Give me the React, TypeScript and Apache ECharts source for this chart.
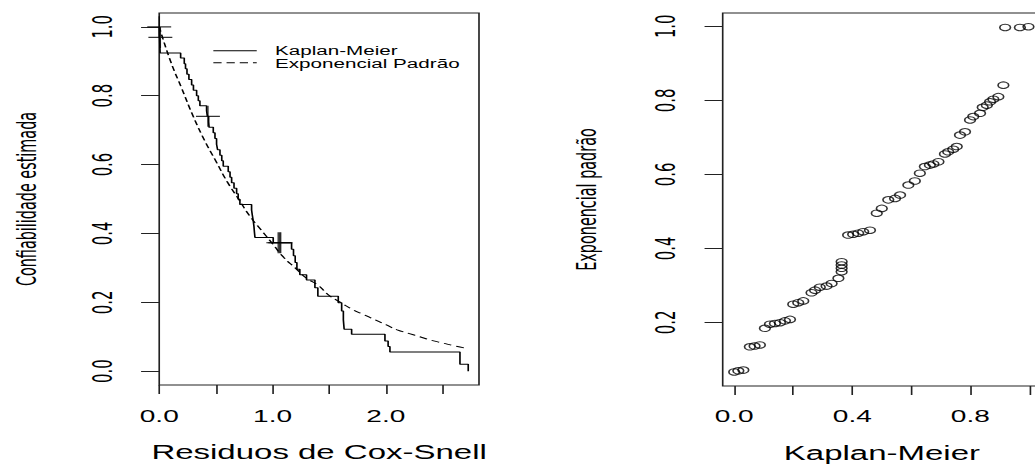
import React, { useEffect, useRef } from "react";
import * as echarts from "echarts";

// ---------- data ----------
// Kaplan-Meier step function of the Cox-Snell residuals
const kmTime = [0, 0.003, 0.008, 0.189, 0.221, 0.232, 0.245, 0.262, 0.286, 0.302, 0.33, 0.345, 0.359, 0.418, 0.425, 0.436, 0.44, 0.477, 0.492, 0.506, 0.515, 0.536, 0.552, 0.565, 0.609, 0.625, 0.639, 0.66, 0.683, 0.697, 0.712, 0.815, 0.822, 0.83, 0.836, 0.84, 0.845, 1.006, 1.168, 1.185, 1.2, 1.215, 1.241, 1.3, 1.374, 1.4, 1.58, 1.61, 1.625, 1.632, 1.698, 1.992, 2.02, 2.036, 2.654, 2.727];
const kmSurv = [1.0, 0.969, 0.924, 0.909, 0.893, 0.878, 0.862, 0.847, 0.831, 0.816, 0.8, 0.785, 0.771, 0.756, 0.74, 0.724, 0.708, 0.692, 0.676, 0.659, 0.643, 0.627, 0.611, 0.595, 0.579, 0.563, 0.547, 0.531, 0.515, 0.499, 0.484, 0.468, 0.452, 0.436, 0.42, 0.404, 0.388, 0.373, 0.354, 0.335, 0.316, 0.296, 0.28, 0.265, 0.242, 0.218, 0.199, 0.175, 0.149, 0.122, 0.107, 0.088, 0.072, 0.056, 0.02, 0.0];
// censored observations (+ marks)
const censorTime = [0, 0.01, 0.43, 1.05, 1.062, 1.072];
const censorSurv = [1.0, 0.969, 0.74, 0.373, 0.373, 0.373];
// standard exponential curve (dashed)
const expTime = [0, 0.1, 0.2, 0.3, 0.4, 0.5, 0.6, 0.7, 0.8, 0.9, 1.0, 1.1, 1.2, 1.3, 1.4, 1.5, 1.6, 1.7, 1.8, 1.9, 2.0, 2.1, 2.2, 2.3, 2.4, 2.5, 2.6, 2.7];
const expSurv = [1.0, 0.9, 0.82, 0.74, 0.67, 0.61, 0.55, 0.5, 0.45, 0.41, 0.37, 0.33, 0.3, 0.27, 0.25, 0.22, 0.2, 0.18, 0.165, 0.15, 0.135, 0.12, 0.11, 0.1, 0.09, 0.082, 0.074, 0.067];
// right panel: Kaplan-Meier vs standard exponential
const qqKM = [0.0, 0.014, 0.031, 0.053, 0.069, 0.087, 0.104, 0.121, 0.138, 0.155, 0.172, 0.189, 0.2, 0.217, 0.234, 0.262, 0.274, 0.29, 0.313, 0.33, 0.353, 0.364, 0.364, 0.364, 0.364, 0.386, 0.403, 0.42, 0.437, 0.46, 0.483, 0.5, 0.522, 0.545, 0.562, 0.59, 0.612, 0.629, 0.646, 0.663, 0.675, 0.692, 0.714, 0.725, 0.742, 0.754, 0.765, 0.782, 0.799, 0.81, 0.833, 0.842, 0.856, 0.867, 0.878, 0.895, 0.912, 0.918, 0.968, 0.997];
const qqExp = [0.066, 0.069, 0.071, 0.134, 0.136, 0.139, 0.184, 0.195, 0.197, 0.199, 0.204, 0.208, 0.249, 0.253, 0.258, 0.28, 0.287, 0.295, 0.298, 0.305, 0.319, 0.337, 0.346, 0.355, 0.364, 0.436, 0.438, 0.441, 0.445, 0.449, 0.495, 0.508, 0.531, 0.535, 0.544, 0.571, 0.582, 0.603, 0.621, 0.625, 0.628, 0.634, 0.655, 0.661, 0.668, 0.675, 0.706, 0.715, 0.747, 0.756, 0.765, 0.781, 0.787, 0.796, 0.803, 0.81, 0.841, 0.997, 0.997, 0.999];

// axis ticks / labels
const leftXTicks = [0, 0.5, 1, 1.5, 2, 2.5];
const leftXLabels = [0, 1, 2];
const leftYTicks = [0, 0.2, 0.4, 0.6, 0.8, 1.0];
const rightXTicks = [0, 0.2, 0.4, 0.6, 0.8, 1.0];
const rightXLabels = [0, 0.4, 0.8];
const rightYTicks = [0.2, 0.4, 0.6, 0.8, 1.0];
const legendNames = ["Kaplan-Meier", "Exponencial Padrão"];
const titles = {
  leftX: "Residuos de Cox-Snell",
  leftY: "Confiabilidade estimada",
  rightX: "Kaplan-Meier",
  rightY: "Exponencial padrão",
};

// ---------- layout ----------
const SX = 1.65; // horizontal stretch of the reference
const W = 640;
const H = 464;
const SANS = "'Liberation Sans', Arial, sans-serif";
const NARROW = "'Liberation Sans Narrow', 'DejaVu Sans Condensed', 'Liberation Sans', sans-serif";
const INK = "#000";
const BOX = "#222";

const fmt1 = (v: number) => Number(v).toFixed(1);

export default function App() {
  const ref = useRef<HTMLDivElement>(null);

  useEffect(() => {
    if (!ref.current) return;
    const chart = echarts.init(ref.current, null, { renderer: "svg" });

    const xBase = (gridIndex: number, min: number, max: number, ticks: number[], labels: number[], name: string, nameGap: number, margin: number) => ({
      type: "value",
      gridIndex,
      min,
      max,
      axisLine: { show: false, onZero: false },
      splitLine: { show: false },
      axisTick: { show: true, customValues: ticks, length: 9, lineStyle: { color: BOX, width: 1 } },
      axisLabel: { customValues: labels, formatter: fmt1, fontSize: 17, fontFamily: SANS, color: INK, margin },
      name,
      nameLocation: "middle",
      nameGap,
      nameTextStyle: { fontSize: 20, fontFamily: SANS, color: INK },
    });

    const yBase = (gridIndex: number, min: number, max: number, ticks: number[], name: string, nameGap: number) => ({
      type: "value",
      gridIndex,
      min,
      max,
      axisLine: { show: false, onZero: false },
      splitLine: { show: false },
      axisTick: { show: true, customValues: ticks, length: 11, lineStyle: { color: BOX, width: 1 } },
      axisLabel: { customValues: ticks, formatter: fmt1, rotate: 90, fontSize: 16.5, fontFamily: NARROW, color: INK, margin: 26 },
      name,
      nameLocation: "middle",
      nameGap,
      nameTextStyle: { fontSize: 16, fontFamily: NARROW, color: INK },
    });

    const gridBase = { show: true, borderColor: BOX, borderWidth: 1, backgroundColor: "transparent", containLabel: false, outerBoundsMode: "none" };

    const option: any = {
      animation: false,
      backgroundColor: "#fff",
      grid: [
        { ...gridBase, left: 96.5, right: W - 290.3, top: 13, bottom: H - 385 },
        { ...gridBase, left: 438, right: W - 631, top: 13, bottom: H - 386 },
      ],
      xAxis: [
        xBase(0, 0, 2.822, leftXTicks, leftXLabels, titles.leftX, 57, 23),
        xBase(1, -0.039, 1.04, rightXTicks, rightXLabels, titles.rightX, 57, 22),
      ],
      yAxis: [
        yBase(0, -0.04, 1.04, leftYTicks, titles.leftY, 72),
        yBase(1, 0.028, 1.036, rightYTicks, titles.rightY, 74),
      ],
      series: [
        {
          type: "line",
          name: legendNames[0],
          xAxisIndex: 0,
          yAxisIndex: 0,
          step: "end",
          symbol: "none",
          lineStyle: { color: INK, width: 1 },
          data: kmTime.map((t, i) => [t, kmSurv[i]]),
        },
        {
          type: "line",
          name: legendNames[1],
          xAxisIndex: 0,
          yAxisIndex: 0,
          smooth: true,
          symbol: "none",
          lineStyle: { color: INK, width: 1, type: [5, 3] },
          data: expTime.map((t, i) => [t, expSurv[i]]),
        },
        {
          type: "scatter",
          name: "censura",
          xAxisIndex: 0,
          yAxisIndex: 0,
          symbol: "path://M0,10L20,10M10,0L10,20",
          symbolSize: [14.5, 21],
          itemStyle: { color: "transparent", borderColor: INK, borderWidth: 1 },
          data: censorTime.map((t, i) => [t, censorSurv[i]]),
        },
        {
          type: "scatter",
          name: "KM x Exp",
          xAxisIndex: 1,
          yAxisIndex: 1,
          symbol: "circle",
          symbolSize: 6.5,
          itemStyle: { color: "transparent", borderColor: INK, borderWidth: 1 },
          data: qqKM.map((k, i) => [k, qqExp[i]]),
        },
      ],
      graphic: [
        { type: "line", shape: { x1: 129.3, y1: 50.7, x2: 155.6, y2: 50.7 }, style: { stroke: INK, lineWidth: 1 } },
        { type: "line", shape: { x1: 129.3, y1: 62.7, x2: 155.6, y2: 62.7 }, style: { stroke: INK, lineWidth: 1, lineDash: [5, 3] } },
        { type: "text", x: 166.7, y: 50.5, style: { text: legendNames[0], fontSize: 12.5, lineHeight: 12, fontFamily: SANS, fill: INK, align: "left", verticalAlign: "middle" } },
        { type: "text", x: 166.7, y: 63.5, style: { text: legendNames[1], fontSize: 12.5, lineHeight: 12, fontFamily: SANS, fill: INK, align: "left", verticalAlign: "middle" } },
      ],
    };

    chart.setOption(option);
    return () => chart.dispose();
  }, []);

  return (
    <div style={{ position: "absolute", left: 0, top: 0, width: 1035, height: 464, overflow: "hidden", background: "#fff" }}>
      <div
        ref={ref}
        style={{ width: W, height: H, transform: `scaleX(${SX})`, transformOrigin: "0 0" }}
      />
    </div>
  );
}
